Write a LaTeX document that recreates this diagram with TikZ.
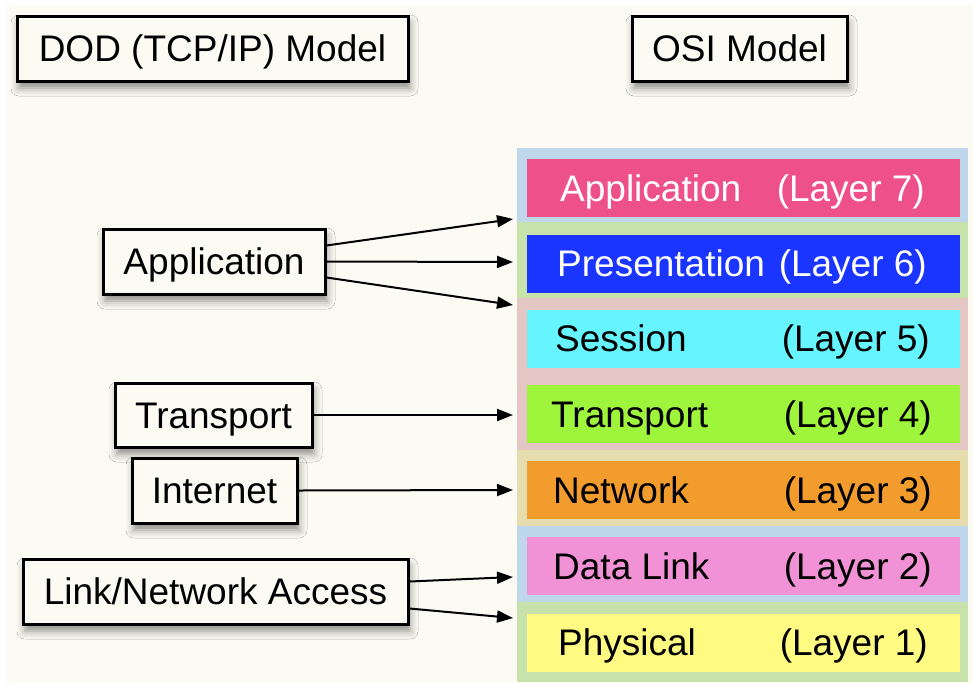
\documentclass[tikz,border=0pt]{standalone}
\usepackage{fontspec}
\setmainfont{Liberation Sans}
\usetikzlibrary{arrows.meta,shadows.blur}
\definecolor{bgcream}{HTML}{FCFBF3}
\definecolor{bandblue}{HTML}{BFD7EA}
\definecolor{bandgreen}{HTML}{C8E2AC}
\definecolor{bandpink}{HTML}{E4C6C4}
\definecolor{bandbeige}{HTML}{E6DDAE}
\definecolor{cApp}{HTML}{EE5189}
\definecolor{cPres}{HTML}{1A35FF}
\definecolor{cSess}{HTML}{66F5FF}
\definecolor{cTrans}{HTML}{9EF53C}
\definecolor{cNet}{HTML}{F29C2D}
\definecolor{cData}{HTML}{F292D6}
\definecolor{cPhys}{HTML}{FFFA82}
\tikzset{
  lbox/.style={draw=black, line width=3pt, fill=bgcream, inner sep=0pt,
    text height=26pt, text depth=0pt,
    font=\fontsize{37pt}{40pt}\selectfont,
    blur shadow={shadow xshift=2pt, shadow yshift=-7pt, shadow blur radius=8pt, shadow opacity=45}},
  band/.style={fill=#1, draw=none},
  layerbox/.style={fill=#1, draw=none, minimum width=433pt, minimum height=58pt, inner sep=0pt},
  ltxt/.style={font=\fontsize{37pt}{40pt}\selectfont, inner sep=0pt, anchor=base west},
  rtxt/.style={font=\fontsize{37pt}{40pt}\selectfont, inner sep=0pt, anchor=base east},
  arr/.style={line width=2pt, -{Triangle[length=16pt,width=12pt]}}
}
\begin{document}
\begin{tikzpicture}[x=1pt,y=-1pt]
\useasboundingbox (0,0) rectangle (973,683);
\fill[white] (0,0) rectangle (973,683);
\fill[bgcream] (6,5) rectangle (973,683);

% title boxes
\node[lbox, minimum width=391pt, minimum height=65pt] (dod) at (212.5,48.5) {DOD (TCP/IP) Model};
\node[lbox, minimum width=215pt, minimum height=65pt] (osi) at (739.5,48.5) {OSI Model};

% bands
\fill[band=bandblue]  (517,148) rectangle (968,222);
\fill[band=bandgreen] (517,222) rectangle (968,298);
\fill[band=bandpink]  (517,298) rectangle (968,450);
\fill[band=bandbeige] (517,450) rectangle (968,526);
\fill[band=bandblue]  (517,526) rectangle (968,602);
\fill[band=bandgreen] (517,602) rectangle (968,682);

% layer boxes
\node[layerbox=cApp]   (l7) at (743.5,188) {};
\node[layerbox=cPres]  (l6) at (743.5,263.5) {};
\node[layerbox=cSess]  (l5) at (743.5,338.5) {};
\node[layerbox=cTrans] (l4) at (743.5,414) {};
\node[layerbox=cNet]   (l3) at (743.5,490) {};
\node[layerbox=cData]  (l2) at (743.5,566) {};
\node[layerbox=cPhys]  (l1) at (743.5,642.5) {};

\node[ltxt, text=white] (n7) at (560,201) {Application};
\node[rtxt, text=white] (r7) at (925,201) {(Layer 7)};
\node[ltxt, text=white] (n6) at (557,276.5) {Presentation};
\node[rtxt, text=white] (r6) at (927,276.5) {(Layer 6)};
\node[ltxt] (n5) at (555,351.5) {Session};
\node[rtxt] (r5) at (930,351.5) {(Layer 5)};
\node[ltxt] (n4) at (551,427) {Transport};
\node[rtxt] (r4) at (932,427) {(Layer 4)};
\node[ltxt] (n3) at (553,503) {Network};
\node[rtxt] (r3) at (932,503) {(Layer 3)};
\node[ltxt] (n2) at (553,579) {Data Link};
\node[rtxt] (r2) at (932,579) {(Layer 2)};
\node[ltxt] (n1) at (558,655.5) {Physical};
\node[rtxt] (r1) at (928,655.5) {(Layer 1)};

% left boxes
\node[lbox, minimum width=222pt, minimum height=65pt] (app) at (214,261.5) {Application};
\node[lbox, minimum width=197pt, minimum height=64pt] (trn) at (213.5,415) {Transport};
\node[lbox, minimum width=165pt, minimum height=65pt] (inet) at (214.5,490.5) {Internet};
\node[lbox, minimum width=385pt, minimum height=65pt] (link) at (215.5,591.5) {Link/Network Access};

% arrow targets
\coordinate (t7) at (513,219);
\coordinate (t6) at (513,262);
\coordinate (t5) at (513,305);
\coordinate (t4) at (513,415);
\coordinate (t3) at (513,490);
\coordinate (t2) at (513,577);
\coordinate (t1) at (513,618);

\draw[arr] ([yshift=16pt]app.east) -- (t7);
\draw[arr] (app.east) -- (t6);
\draw[arr] ([yshift=-16pt]app.east) -- (t5);
\draw[arr] (trn.east) -- (t4);
\draw[arr] (inet.east) -- (t3);
\draw[arr] ([yshift=10pt]link.east) -- (t2);
\draw[arr] ([yshift=-17pt]link.east) -- (t1);
\end{tikzpicture}
\end{document}
